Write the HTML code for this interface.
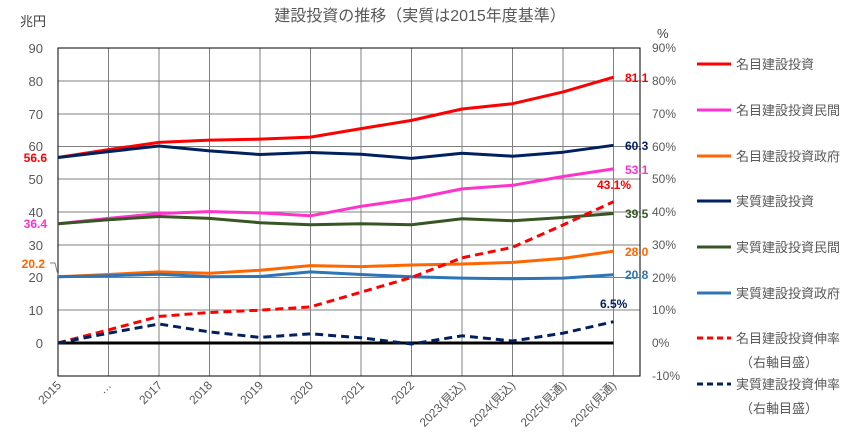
<!DOCTYPE html>
<html><head><meta charset="utf-8"><style>
body{margin:0;background:#fff;}
svg{display:block;font-family:"Liberation Sans","Noto Sans CJK JP",sans-serif;}
</style></head><body>
<svg width="862" height="446" viewBox="0 0 862 446" xmlns="http://www.w3.org/2000/svg">
<text x="420" y="21" text-anchor="middle" font-size="16" fill="#595959">建設投資の推移（実質は2015年度基準）</text>
<text x="20" y="26" font-size="13" fill="#404040">兆円</text>
<text x="657" y="38" font-size="13" fill="#404040">%</text>
<g stroke="#808080" stroke-width="1">
<line x1="58" y1="81" x2="640" y2="81"/><line x1="58" y1="114" x2="640" y2="114"/><line x1="58" y1="146.5" x2="640" y2="146.5"/><line x1="58" y1="179" x2="640" y2="179"/><line x1="58" y1="212" x2="640" y2="212"/><line x1="58" y1="245" x2="640" y2="245"/><line x1="58" y1="277.5" x2="640" y2="277.5"/><line x1="58" y1="310" x2="640" y2="310"/>
<line x1="108.5" y1="48" x2="108.5" y2="376"/><line x1="159" y1="48" x2="159" y2="376"/><line x1="209.5" y1="48" x2="209.5" y2="376"/><line x1="260" y1="48" x2="260" y2="376"/><line x1="310.5" y1="48" x2="310.5" y2="376"/><line x1="361" y1="48" x2="361" y2="376"/><line x1="411.5" y1="48" x2="411.5" y2="376"/><line x1="462" y1="48" x2="462" y2="376"/><line x1="512.5" y1="48" x2="512.5" y2="376"/><line x1="563" y1="48" x2="563" y2="376"/><line x1="613.5" y1="48" x2="613.5" y2="376"/>
</g>
<rect x="58" y="48" width="582" height="328" fill="none" stroke="#000" stroke-width="1"/>
<line x1="58" y1="343" x2="613.5" y2="343" stroke="#000" stroke-width="3"/>
<g font-size="13" fill="#595959" text-anchor="end">
<text x="43" y="53">90</text><text x="43" y="86">80</text><text x="43" y="119">70</text><text x="43" y="151">60</text><text x="43" y="184">50</text><text x="43" y="217">40</text><text x="43" y="250">30</text><text x="43" y="282">20</text><text x="43" y="315">10</text><text x="43" y="348">0</text>
</g>
<g font-size="12" fill="#595959">
<text x="652" y="52">90%</text><text x="652" y="85">80%</text><text x="652" y="118">70%</text><text x="652" y="151">60%</text><text x="652" y="183">50%</text><text x="652" y="216">40%</text><text x="652" y="249">30%</text><text x="652" y="282">20%</text><text x="652" y="314">10%</text><text x="652" y="347">0%</text><text x="652" y="380">-10%</text>
</g>
<g font-size="12" fill="#595959" text-anchor="end">
<text transform="translate(62,386) rotate(-45)">2015</text>
<text transform="translate(112,386) rotate(-45)">…</text>
<text transform="translate(163,386) rotate(-45)">2017</text>
<text transform="translate(213,386) rotate(-45)">2018</text>
<text transform="translate(264,386) rotate(-45)">2019</text>
<text transform="translate(314,386) rotate(-45)">2020</text>
<text transform="translate(365,386) rotate(-45)">2021</text>
<text transform="translate(415,386) rotate(-45)">2022</text>
<text transform="translate(466,386) rotate(-45)">2023(見込)</text>
<text transform="translate(516,386) rotate(-45)">2024(見込)</text>
<text transform="translate(567,386) rotate(-45)">2025(見通)</text>
<text transform="translate(617,386) rotate(-45)">2026(見通)</text>
</g>
<g fill="none" stroke-width="3" stroke-linejoin="round">
<polyline stroke="#FF0000" points="58,157.5 108.5,149.6 159,142.4 209.5,140.1 260,139.1 310.5,137.1 361,128.6 411.5,120.4 462,109 512.5,103.7 563,91.9 613.5,77.2"/>
<polyline stroke="#FF33CC" points="58,223.7 108.5,218.4 159,213.5 209.5,211.6 260,212.9 310.5,215.8 361,206.3 411.5,199.1 462,188.9 512.5,185.3 563,176.5 613.5,168.9"/>
<polyline stroke="#FF6600" points="58,276.8 108.5,274.5 159,271.9 209.5,273.2 260,270.2 310.5,265.6 361,266.6 411.5,265 462,264 512.5,262.4 563,258.4 613.5,251.2"/>
<polyline stroke="#002060" points="58,157.5 108.5,151.6 159,146 209.5,150.9 260,154.5 310.5,152.5 361,154.2 411.5,158.4 462,153.2 512.5,156.2 563,152.2 613.5,145.3"/>
<polyline stroke="#375623" points="58,223.7 108.5,219.7 159,216.5 209.5,218.4 260,222.7 310.5,224.7 361,223.7 411.5,224.7 462,218.8 512.5,220.7 563,217.5 613.5,213.5"/>
<polyline stroke="#2E75B6" points="58,276.8 108.5,275.8 159,274.2 209.5,276.8 260,276.5 310.5,271.9 361,274.5 411.5,276.8 462,278.1 512.5,278.8 563,278.1 613.5,274.8"/>
<polyline stroke="#FF0000" stroke-dasharray="8,5" points="58,343 108.5,329.9 159,316.4 209.5,312.5 260,310.2 310.5,306.9 361,292.2 411.5,277.4 462,257.8 512.5,247.3 563,225 613.5,201.7"/>
<polyline stroke="#002060" stroke-dasharray="8,5" points="58,343 108.5,333.2 159,324 209.5,331.9 260,337.4 310.5,333.8 361,337.8 411.5,344 462,335.8 512.5,341 563,333.2 613.5,321.7"/>
</g>
<polyline points="50,263 55,263 58,275" fill="none" stroke="#808080" stroke-width="1"/>
<g font-size="12" font-weight="bold">
<text x="47" y="162" text-anchor="end" fill="#FF0000">56.6</text>
<text x="47" y="228" text-anchor="end" fill="#FF33CC">36.4</text>
<text x="45" y="268" text-anchor="end" fill="#FF6600">20.2</text>
<text x="625" y="82" fill="#FF0000">81.1</text>
<text x="625" y="150" fill="#002060">60.3</text>
<text x="625" y="174" fill="#FF33CC">53.1</text>
<text x="625" y="218" fill="#375623">39.5</text>
<text x="625" y="256" fill="#FF6600">28.0</text>
<text x="625" y="279" fill="#2E75B6">20.8</text>
<text x="597" y="189" fill="#FF0000">43.1%</text>
<text x="600" y="308" fill="#002060">6.5%</text>
</g>
<g stroke-width="3">
<line x1="697" y1="64" x2="731" y2="64" stroke="#FF0000"/>
<line x1="697" y1="110" x2="731" y2="110" stroke="#FF33CC"/>
<line x1="697" y1="156" x2="731" y2="156" stroke="#FF6600"/>
<line x1="697" y1="201" x2="731" y2="201" stroke="#002060"/>
<line x1="697" y1="247" x2="731" y2="247" stroke="#375623"/>
<line x1="697" y1="293" x2="731" y2="293" stroke="#2E75B6"/>
<line x1="697" y1="338" x2="731" y2="338" stroke="#FF0000" stroke-dasharray="6,4"/>
<line x1="697" y1="384" x2="731" y2="384" stroke="#002060" stroke-dasharray="6,4"/>
</g>
<g font-size="13" fill="#595959">
<text x="736" y="69">名目建設投資</text>
<text x="736" y="115">名目建設投資民間</text>
<text x="736" y="161">名目建設投資政府</text>
<text x="736" y="206">実質建設投資</text>
<text x="736" y="252">実質建設投資民間</text>
<text x="736" y="298">実質建設投資政府</text>
<text x="736" y="343">名目建設投資伸率</text>
<text x="740" y="367">（右軸目盛）</text>
<text x="736" y="389">実質建設投資伸率</text>
<text x="740" y="413">（右軸目盛）</text>
</g>
</svg>
</body></html>
